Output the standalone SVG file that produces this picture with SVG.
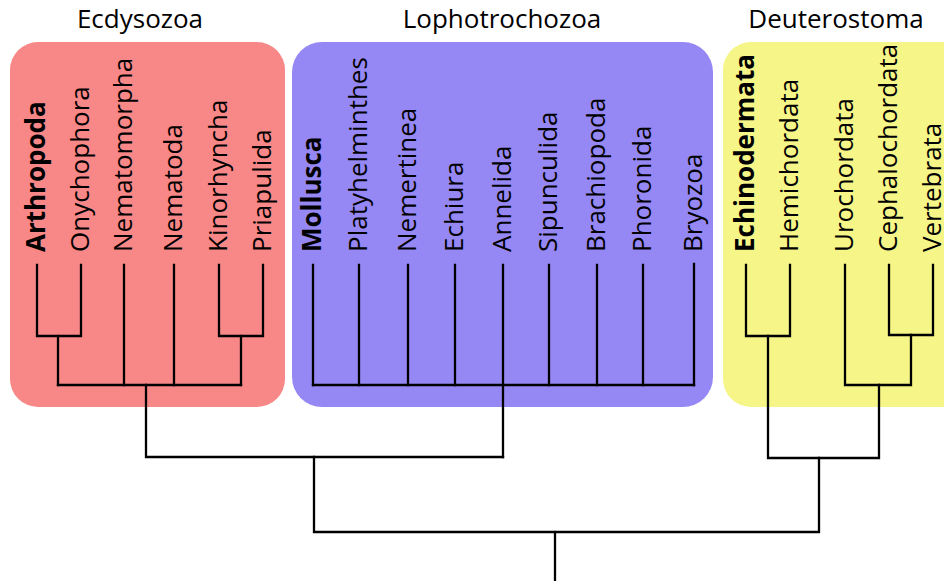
<svg xmlns="http://www.w3.org/2000/svg" width="944" height="581" viewBox="0 0 944 581">
<style>
.title{font-family:"Open Sans","Noto Sans",sans-serif;font-size:26px;fill:#000;text-anchor:middle}
.lbl{font-family:"Open Sans","Noto Sans",sans-serif;font-size:26px;fill:#000}
.b{font-weight:bold}
.tree{fill:none;stroke:#000;stroke-width:2.3;stroke-linejoin:miter;stroke-linecap:square}
</style>
<rect width="944" height="581" fill="#fff"/>
<g id="ecdysozoa">
<rect x="10" y="42" width="275" height="365" rx="28" fill="#F88787"/>
<text class="title" x="140" y="28">Ecdysozoa</text>
<text class="lbl b" transform="translate(45,252) rotate(-90)">Arthropoda</text>
<text class="lbl" transform="translate(89,252) rotate(-90)">Onychophora</text>
<text class="lbl" transform="translate(132,252) rotate(-90)">Nematomorpha</text>
<text class="lbl" transform="translate(182,252) rotate(-90)">Nematoda</text>
<text class="lbl" transform="translate(227,252) rotate(-90)">Kinorhyncha</text>
<text class="lbl" transform="translate(271,252) rotate(-90)">Priapulida</text>
</g>
<g id="lophotrochozoa">
<rect x="292" y="42" width="421" height="365" rx="30" fill="#9688F4"/>
<text class="title" x="502" y="28">Lophotrochozoa</text>
<text class="lbl b" transform="translate(321,252) rotate(-90)">Mollusca</text>
<text class="lbl" transform="translate(367,252) rotate(-90)">Platyhelminthes</text>
<text class="lbl" transform="translate(416,252) rotate(-90)">Nemertinea</text>
<text class="lbl" transform="translate(463,252) rotate(-90)">Echiura</text>
<text class="lbl" transform="translate(511,252) rotate(-90)">Annelida</text>
<text class="lbl" transform="translate(557,252) rotate(-90)">Sipunculida</text>
<text class="lbl" transform="translate(605,252) rotate(-90)">Brachiopoda</text>
<text class="lbl" transform="translate(651,252) rotate(-90)">Phoronida</text>
<text class="lbl" transform="translate(702,252) rotate(-90)">Bryozoa</text>
</g>
<g id="deuterostoma">
<rect x="723" y="42" width="250" height="365" rx="28" fill="#F6F588"/>
<text class="title" x="836" y="28">Deuterostoma</text>
<text class="lbl b" transform="translate(754,252) rotate(-90)">Echinodermata</text>
<text class="lbl" transform="translate(798,252) rotate(-90)">Hemichordata</text>
<text class="lbl" transform="translate(853,252) rotate(-90)">Urochordata</text>
<text class="lbl" transform="translate(897,252) rotate(-90)">Cephalochordata</text>
<text class="lbl" transform="translate(941,252) rotate(-90)">Vertebrata</text>
</g>
<g id="connectors" class="tree">
<path d="M37,265V336H81V265"/>
<path d="M58,336V385"/>
<path d="M219,265V336H263V265"/>
<path d="M241,336V385"/>
<path d="M58,385H241"/>
<path d="M124,265V385M174,265V385"/>
<path d="M146,385V457H503"/>
<path d="M313,265V385M359,265V385M408,265V385M455,265V385M503,265V457M549,265V385M597,265V385M643,265V385M694,264V385"/>
<path d="M313,385H694"/>
<path d="M314,457V532H819V458"/>
<path d="M746,265V336H790V265"/>
<path d="M768,336V458H879V385"/>
<path d="M889,265V335H933V265"/>
<path d="M911,335V385H845V265"/>
<path d="M555,532V581"/>
</g>
</svg>
